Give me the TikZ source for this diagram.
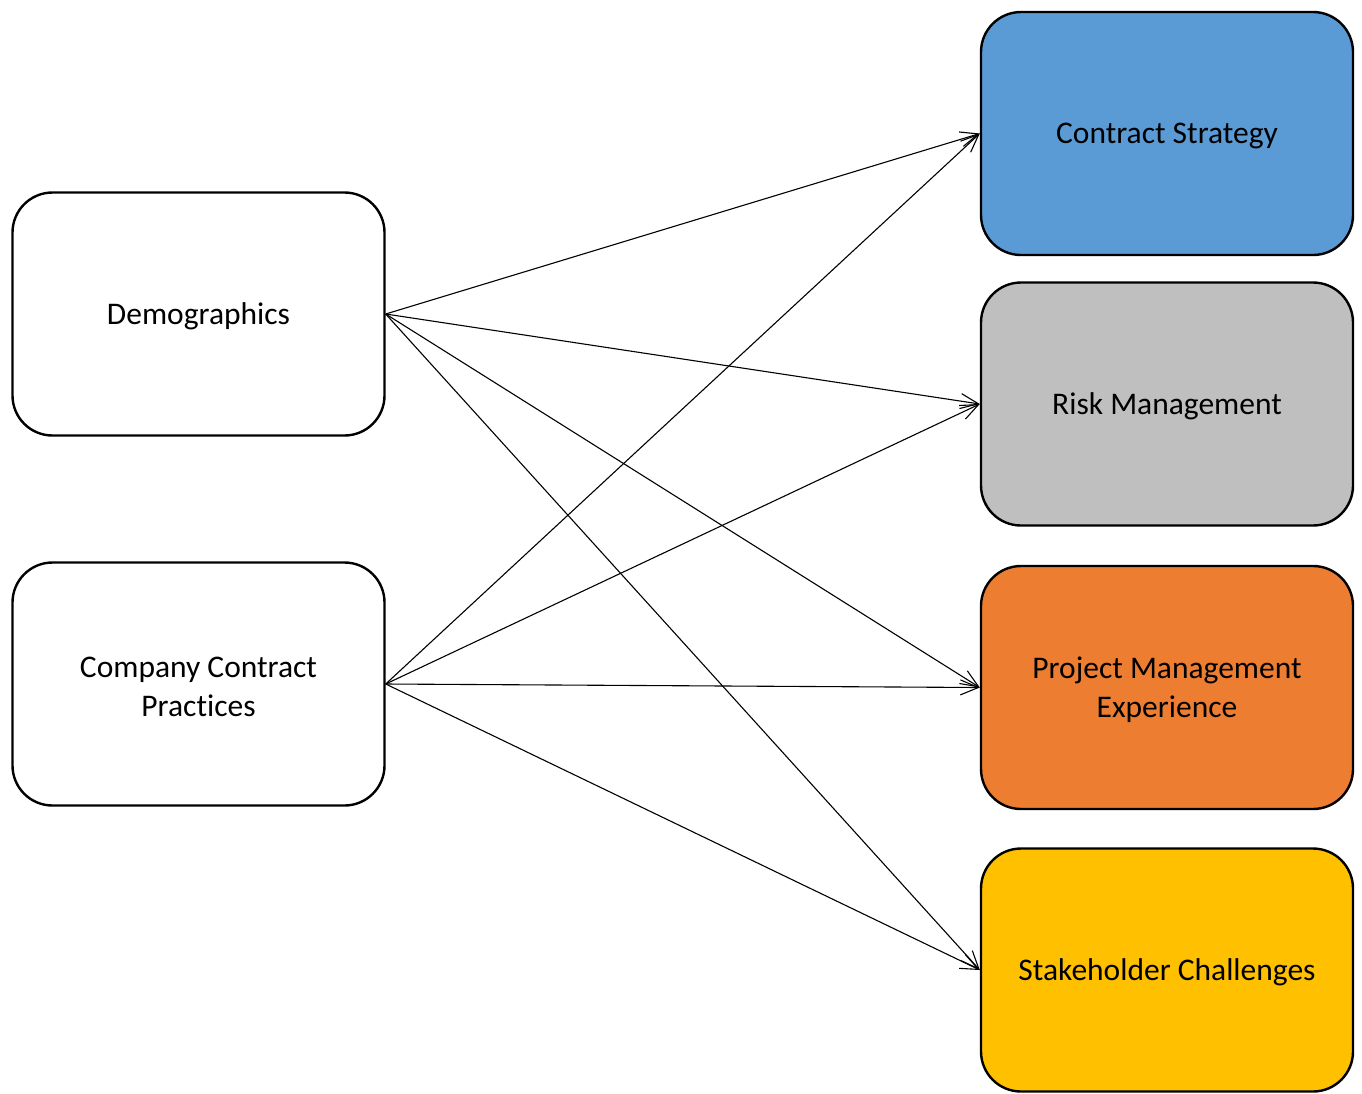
\documentclass[tikz,border=0pt]{standalone}
\usepackage{fontspec}
\setmainfont{Carlito}[Ligatures=NoCommon]
\usetikzlibrary{arrows.meta}
\definecolor{csblue}{HTML}{5B9BD5}
\definecolor{rmgray}{HTML}{BFBFBF}
\definecolor{pmorange}{HTML}{ED7D31}
\definecolor{shyellow}{HTML}{FFC000}
\begin{document}
\begin{tikzpicture}[x=1pt,y=-1pt,
  box/.style={draw=black, line width=2.4pt, rounded corners=40pt,
    minimum width=372pt, minimum height=243pt, inner sep=0pt},
  boxtext/.style={align=center, font=\fontsize{31.5}{39}\selectfont,
    inner sep=0pt, yshift=-2.5pt},
  link/.style={line width=1.1pt, -{Straight Barb[length=18pt,width=15pt,line width=1.1pt]}}]
  \useasboundingbox (0,0) rectangle (1362,1093);
  % factors
  \node[box] (demo) at (198.5,314) {};
  \node[box] (ccp) at (198.5,684) {};
  % outcomes
  \node[box, fill=csblue] (cs) at (1167,133.5) {};
  \node[box, fill=rmgray] (rm) at (1167,404) {};
  \node[box, fill=pmorange] (pm) at (1167,687.5) {};
  \node[box, fill=shyellow] (sc) at (1167,970) {};
  % box captions
  \node[boxtext] (demot) at (demo.center) {Demographics};
  \node[boxtext] (ccpt) at (ccp.center) {Company Contract\\Practices};
  \node[boxtext] (cst) at (cs.center) {Contract Strategy};
  \node[boxtext] (rmt) at (rm.center) {Risk Management};
  \node[boxtext] (pmt) at (pm.center) {Project Management\\Experience};
  \node[boxtext] (sct) at (sc.center) {Stakeholder Challenges};
  % relations
  \foreach \t in {cs,rm,pm,sc}{
    \draw[link] (demo.east) -- (\t.west);
    \draw[link] (ccp.east) -- (\t.west);
  }
\end{tikzpicture}
\end{document}
